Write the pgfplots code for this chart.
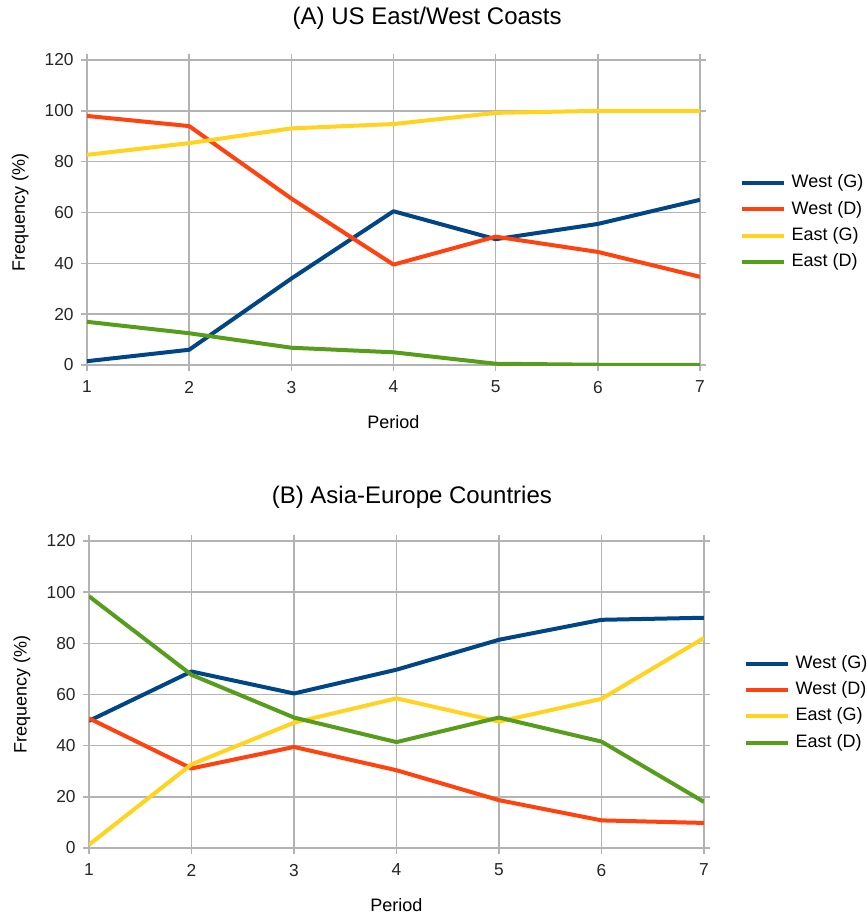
\documentclass[border=0pt]{standalone}
\usepackage{pgfplots}
\pgfplotsset{compat=1.18}
\usepackage{fontspec}
\setmainfont{Liberation Sans}
\definecolor{cblue}{HTML}{004586}
\definecolor{cred}{HTML}{FF420E}
\definecolor{cyellow}{HTML}{FFD320}
\definecolor{cgreen}{HTML}{579D1C}
\definecolor{cgrid}{HTML}{B3B3B3}
\pgfplotsset{
  panel/.style={
    scale only axis,
    anchor=north west,
    xmin=1, xmax=7, ymin=0, ymax=120,
    xtick={1,...,7}, ytick={0,20,...,120},
    grid=major,
    grid style={cgrid, line width=1.1pt},
    axis line style={cgrid, line width=1.1pt},
    tick style={cgrid, line width=1.1pt},
    tick align=outside,
    major tick length=4.5pt,
    /pgf/number format/assume math mode=true,
    tick label style={font=\fontsize{13}{15}\selectfont, text=black!85},
    yticklabel style={xshift=-2pt},
    xticklabel style={yshift=-4pt},
    label style={font=\fontsize{13.5}{15}\selectfont},
    ylabel={Frequency (\%)},
    xlabel={Period},
    ylabel style={at={(axis description cs:-0.109,0.5)}, anchor=center},
    xlabel style={at={(axis description cs:0.5,0)}, anchor=center, yshift=-42.75pt},
    every axis plot/.append style={line width=3pt, line join=round},
    legend cell align=left,
    legend image code/.code={\draw[#1] (0pt,0pt) -- (32pt,0pt);},
    legend style={draw=none, fill=none, inner xsep=0pt, inner ysep=0pt,
      font=\fontsize{13.5}{15}\selectfont,
      nodes={inner sep=0pt, text height=10pt, text depth=3pt},
      row sep=6.7pt, column sep=4pt,
      at={(1,0.5)}, anchor=west, xshift=29.5pt},
  }
}
\begin{document}
\begin{tikzpicture}
\useasboundingbox (0,0) rectangle (650.25pt,-686.25pt);
\begin{axis}[panel,
  at={(65.25pt,-45pt)}, width=459.75pt, height=228.75pt,
  title={(A) US East/West Coasts},
  title style={font=\fontsize{18}{21}\selectfont, at={(0.555,1)}, anchor=base, yshift=21pt},
  legend style={yshift=-7.5pt}]
\addplot[cblue] coordinates {(1,1.5) (2,6) (3,34) (4,60.5) (5,49.5) (6,55.5) (7,65)};
\addlegendentry{West (G)}
\addplot[cred] coordinates {(1,98) (2,94) (3,65.5) (4,39.5) (5,50.5) (6,44.5) (7,34.7)};
\addlegendentry{West (D)}
\addplot[cyellow] coordinates {(1,82.7) (2,87.3) (3,93.1) (4,94.8) (5,99.2) (6,100) (7,100)};
\addlegendentry{East (G)}
\addplot[cgreen] coordinates {(1,17) (2,12.5) (3,6.8) (4,5) (5,0.5) (6,0.1) (7,0)};
\addlegendentry{East (D)}
\end{axis}
\begin{axis}[panel,
  at={(66.75pt,-405.75pt)}, width=461.25pt, height=230.25pt,
  title={(B) Asia-Europe Countries},
  title style={font=\fontsize{18}{21}\selectfont, at={(0.525,1)}, anchor=base, yshift=22pt},
  legend style={yshift=-6.5pt}]
\addplot[cblue] coordinates {(1,49.7) (2,69) (3,60.4) (4,69.7) (5,81.4) (6,89.2) (7,90)};
\addlegendentry{West (G)}
\addplot[cred] coordinates {(1,50.7) (2,31.1) (3,39.5) (4,30.4) (5,18.7) (6,10.8) (7,9.8)};
\addlegendentry{West (D)}
\addplot[cyellow] coordinates {(1,1.3) (2,32.7) (3,49) (4,58.5) (5,49.4) (6,58.3) (7,82.1)};
\addlegendentry{East (G)}
\addplot[cgreen] coordinates {(1,98.4) (2,67.7) (3,51) (4,41.4) (5,51) (6,41.6) (7,18)};
\addlegendentry{East (D)}
\end{axis}
\end{tikzpicture}
\end{document}
